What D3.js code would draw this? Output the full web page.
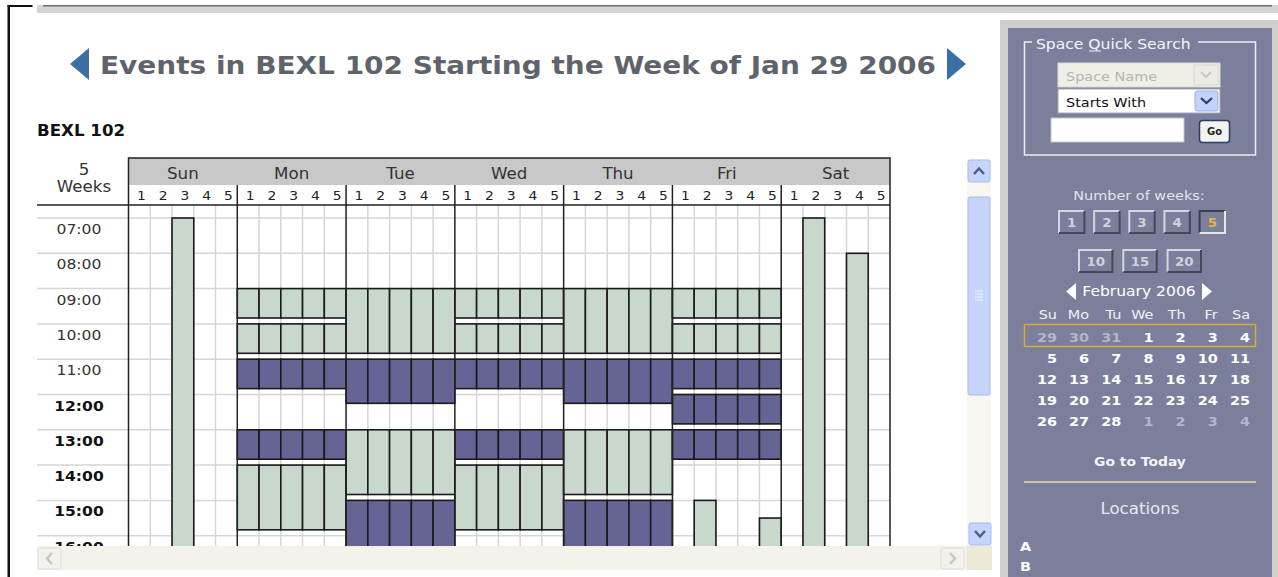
<!DOCTYPE html>
<html>
<script src="https://d3js.org/d3.v7.min.js"></script>

<head>
    <style>
        body {
            margin: 0;
            background-color: #ffffff;
            overflow: hidden;
        }

        svg {
            display: block;
            font-family: "DejaVu Sans", Verdana, sans-serif;
        }
    </style>
</head>

<body>
</body>
<script>
    const width = 1278,
        height = 577;

    const room = "BEXL 102";
    const title = "Events in BEXL 102 Starting the Week of Jan 29 2006";
    const days = ["Sun", "Mon", "Tue", "Wed", "Thu", "Fri", "Sat"];
    const weeks = [1, 2, 3, 4, 5];
    const hours = [7, 8, 9, 10, 11, 12, 13, 14, 15, 16];
    const hourLabels = ["07:00", "08:00", "09:00", "10:00", "11:00", "12:00", "13:00", "14:00", "15:00", "16:00"];

    // bookings: day, week columns, start/end in decimal hours, kind
    const events = [
        { day: "Sun", weeks: [3], start: 7, end: 18, kind: "open" },
        { day: "Mon", weeks: [1, 2, 3, 4, 5], start: 9, end: 9.833, kind: "open" },
        { day: "Mon", weeks: [1, 2, 3, 4, 5], start: 10, end: 10.833, kind: "open" },
        { day: "Mon", weeks: [1, 2, 3, 4, 5], start: 11, end: 11.833, kind: "class" },
        { day: "Mon", weeks: [1, 2, 3, 4, 5], start: 13, end: 13.833, kind: "class" },
        { day: "Mon", weeks: [1, 2, 3, 4, 5], start: 14, end: 15.833, kind: "open" },
        { day: "Tue", weeks: [1, 2, 3, 4, 5], start: 9, end: 10.833, kind: "open" },
        { day: "Tue", weeks: [1, 2, 3, 4, 5], start: 11, end: 12.25, kind: "class" },
        { day: "Tue", weeks: [1, 2, 3, 4, 5], start: 13, end: 14.833, kind: "open" },
        { day: "Tue", weeks: [1, 2, 3, 4, 5], start: 15, end: 16.833, kind: "class" },
        { day: "Wed", weeks: [1, 2, 3, 4, 5], start: 9, end: 9.833, kind: "open" },
        { day: "Wed", weeks: [1, 2, 3, 4, 5], start: 10, end: 10.833, kind: "open" },
        { day: "Wed", weeks: [1, 2, 3, 4, 5], start: 11, end: 11.833, kind: "class" },
        { day: "Wed", weeks: [1, 2, 3, 4, 5], start: 13, end: 13.833, kind: "class" },
        { day: "Wed", weeks: [1, 2, 3, 4, 5], start: 14, end: 15.833, kind: "open" },
        { day: "Thu", weeks: [1, 2, 3, 4, 5], start: 9, end: 10.833, kind: "open" },
        { day: "Thu", weeks: [1, 2, 3, 4, 5], start: 11, end: 12.25, kind: "class" },
        { day: "Thu", weeks: [1, 2, 3, 4, 5], start: 13, end: 14.833, kind: "open" },
        { day: "Thu", weeks: [1, 2, 3, 4, 5], start: 15, end: 16.833, kind: "class" },
        { day: "Fri", weeks: [1, 2, 3, 4, 5], start: 9, end: 9.833, kind: "open" },
        { day: "Fri", weeks: [1, 2, 3, 4, 5], start: 10, end: 10.833, kind: "open" },
        { day: "Fri", weeks: [1, 2, 3, 4, 5], start: 11, end: 11.833, kind: "class" },
        { day: "Fri", weeks: [1, 2, 3, 4, 5], start: 12, end: 12.833, kind: "class" },
        { day: "Fri", weeks: [1, 2, 3, 4, 5], start: 13, end: 13.833, kind: "class" },
        { day: "Fri", weeks: [2], start: 15, end: 18, kind: "open" },
        { day: "Fri", weeks: [5], start: 15.5, end: 18, kind: "open" },
        { day: "Sat", weeks: [2], start: 7, end: 18, kind: "open" },
        { day: "Sat", weeks: [4], start: 8, end: 18, kind: "open" }
    ];

    // sidebar content
    const weekChoices = [1, 2, 3, 4, 5];
    const weekChoicesLong = [10, 15, 20];
    const selectedWeeks = 5;
    const monthLabel = "February 2006";
    const calDays = ["Su", "Mo", "Tu", "We", "Th", "Fr", "Sa"];
    const calRows = [
        [29, 30, 31, 1, 2, 3, 4],
        [5, 6, 7, 8, 9, 10, 11],
        [12, 13, 14, 15, 16, 17, 18],
        [19, 20, 21, 22, 23, 24, 25],
        [26, 27, 28, 1, 2, 3, 4]
    ];
    const locations = ["A", "B"];

    const colors = { open: "#c8d8cd", class: "#666494" };
    const panel = "#7b7f9b";

    const svg = d3.select("body").append("svg").attr("width", width).attr("height", height);

    // page frame
    svg.append("rect").attr("x", 37).attr("y", 5).attr("width", width - 37).attr("height", 8).attr("fill", "#d4d4d4");
    svg.append("rect").attr("x", 43).attr("y", 5).attr("width", 1229).attr("height", 1.5).attr("fill", "#6e6e6e");
    svg.append("rect").attr("x", 7.5).attr("y", 5).attr("width", 2.5).attr("height", height).attr("fill", "#111");
    svg.append("rect").attr("x", 7.5).attr("y", 5).attr("width", 25).attr("height", 2).attr("fill", "#111");

    // title with arrows
    svg.append("path").attr("d", "M89,48 L70,64 L89,80 Z").attr("fill", "#3b6ea2");
    svg.append("path").attr("d", "M947,48 L966,64 L947,80 Z").attr("fill", "#3b6ea2");
    svg.append("text")
        .attr("x", 100).attr("y", 74)
        .attr("font-size", 25).attr("font-weight", "bold")
        .attr("fill", "#5f646c")
        .attr("textLength", 836).attr("lengthAdjust", "spacingAndGlyphs")
        .text(title);
    svg.append("text")
        .attr("class", "wide")
        .attr("x", 37).attr("y", 136)
        .attr("font-size", 15).attr("font-weight", "bold")
        .attr("fill", "#111")
        .text(room);

    // scales
    const gridLeft = 128.5, gridRight = 890, gridTop = 205, gridBottom = 546;
    const x = d3.scaleBand().domain(days).range([gridLeft, gridRight]);
    const xw = d3.scaleBand().domain(weeks).range([0, x.bandwidth()]);
    const y = d3.scaleLinear().domain([7, 17]).range([218, 218 + 10 * 35.3]);

    const grid = svg.append("g");
    const clip = svg.append("defs").append("clipPath").attr("id", "body-clip");
    clip.append("rect").attr("x", 37).attr("y", gridTop).attr("width", 930).attr("height", gridBottom - gridTop);

    // header rows
    grid.append("rect")
        .attr("x", gridLeft).attr("y", 158)
        .attr("width", gridRight - gridLeft).attr("height", 27)
        .attr("fill", "#c8c8c8");
    grid.selectAll(".day")
        .data(days)
        .join("text")
        .attr("class", "day wide")
        .attr("x", d => x(d) + x.bandwidth() / 2).attr("y", 179)
        .attr("text-anchor", "middle")
        .attr("font-size", 15).attr("fill", "#333")
        .text(d => d);
    days.forEach(d => {
        grid.append("g").selectAll("text")
            .data(weeks)
            .join("text")
            .attr("class", "wide")
            .attr("x", w => x(d) + xw(w) + xw.bandwidth() / 2 + 2).attr("y", 200)
            .attr("text-anchor", "middle")
            .attr("font-size", 12.5).attr("fill", "#222")
            .text(w => w);
    });
    grid.append("text").attr("class", "wide").attr("x", 84).attr("y", 175)
        .attr("text-anchor", "middle").attr("font-size", 15).attr("fill", "#333").text(weeks.length);
    grid.append("text").attr("class", "wide").attr("x", 84).attr("y", 192)
        .attr("text-anchor", "middle").attr("font-size", 15).attr("fill", "#333").text("Weeks");

    // body grid
    const body = svg.append("g").attr("clip-path", "url(#body-clip)");
    body.selectAll(".hline")
        .data(hours)
        .join("line")
        .attr("x1", 37).attr("x2", gridRight)
        .attr("y1", d => y(d)).attr("y2", d => y(d))
        .attr("stroke", "#d6d6d6").attr("stroke-width", 1.5);
    const cols = days.flatMap(d => weeks.slice(1).map(w => x(d) + xw(w)));
    body.selectAll(".vline")
        .data(cols)
        .join("line")
        .attr("x1", d => d).attr("x2", d => d)
        .attr("y1", gridTop).attr("y2", gridBottom)
        .attr("stroke", "#d6d6d6").attr("stroke-width", 1.5);
    body.selectAll(".tlabel")
        .data(hours)
        .join("text")
        .attr("class", "wide")
        .attr("x", 79).attr("y", d => y(d) + 16)
        .attr("text-anchor", "middle")
        .attr("font-size", 14)
        .attr("font-weight", d => d >= 12 ? "bold" : "normal")
        .attr("fill", d => d >= 12 ? "#111" : "#333")
        .text((d, i) => hourLabels[i]);

    // day dividers
    svg.selectAll(".divider")
        .data(days.slice(1))
        .join("line")
        .attr("x1", d => x(d)).attr("x2", d => x(d))
        .attr("y1", 185).attr("y2", gridBottom)
        .attr("stroke", "#222").attr("stroke-width", 1.5);

    // bookings
    const cells = events.flatMap(e => e.weeks.map(w => ({ ...e, week: w })));
    body.selectAll(".event")
        .data(cells)
        .join("rect")
        .attr("x", d => x(d.day) + xw(d.week))
        .attr("y", d => y(d.start))
        .attr("width", xw.bandwidth())
        .attr("height", d => y(d.end) - y(d.start))
        .attr("fill", d => colors[d.kind])
        .attr("stroke", "#1a1a1a").attr("stroke-width", 1.6);

    // outer borders of the grid
    svg.append("path")
        .attr("d", `M${gridLeft},${gridBottom} V158 H${gridRight} V${gridBottom}`)
        .attr("fill", "none").attr("stroke", "#222").attr("stroke-width", 1.5);
    svg.append("line").attr("x1", 37).attr("x2", gridRight).attr("y1", gridTop).attr("y2", gridTop)
        .attr("stroke", "#222").attr("stroke-width", 1.5);

    // scrollbars
    svg.append("rect").attr("x", 967).attr("y", 159).attr("width", 24).attr("height", 387).attr("fill", "#f7f6f1");
    svg.append("rect").attr("x", 37).attr("y", 546).attr("width", 930).attr("height", 24).attr("fill", "#f4f2ea");
    svg.append("rect").attr("x", 967).attr("y", 546).attr("width", 25).attr("height", 24).attr("fill", "#ece9d8");
    const blueBtn = (bx, by, w, h) => svg.append("rect").attr("x", bx).attr("y", by).attr("width", w).attr("height", h)
        .attr("rx", 2).attr("fill", "#c4d4fb").attr("stroke", "#a7bcf0");
    blueBtn(968, 160, 22, 22);
    blueBtn(968, 197, 22, 198);
    blueBtn(969, 523, 22, 22);
    svg.append("path").attr("d", "M974,174 L979,168.5 L984,174").attr("fill", "none").attr("stroke", "#4d5f84").attr("stroke-width", 2.5);
    svg.append("path").attr("d", "M975,531 L980,536.5 L985,531").attr("fill", "none").attr("stroke", "#4d5f84").attr("stroke-width", 2.5);
    [291, 294, 297, 300].forEach(g => svg.append("line").attr("x1", 975).attr("x2", 983).attr("y1", g).attr("y2", g)
        .attr("stroke", "#eef3ff").attr("stroke-width", 1));
    svg.append("rect").attr("x", 38).attr("y", 548).attr("width", 23).attr("height", 21).attr("rx", 2)
        .attr("fill", "#f3f2ec").attr("stroke", "#e0ded4");
    svg.append("rect").attr("x", 941).attr("y", 548).attr("width", 23).attr("height", 21).attr("rx", 2)
        .attr("fill", "#f3f2ec").attr("stroke", "#e0ded4");
    svg.append("path").attr("d", "M52,553 L47,558.5 L52,564").attr("fill", "none").attr("stroke", "#c4c4c4").attr("stroke-width", 2.5);
    svg.append("path").attr("d", "M950,553 L955,558.5 L950,564").attr("fill", "none").attr("stroke", "#c4c4c4").attr("stroke-width", 2.5);

    // sidebar
    const side = svg.append("g");
    side.append("rect").attr("x", 1000).attr("y", 20).attr("width", 278).attr("height", height - 20).attr("fill", "#cfcfcf");
    side.append("rect").attr("x", 1008).attr("y", 28).attr("width", 264).attr("height", height - 28).attr("fill", panel);

    // quick search box
    side.append("path")
        .attr("d", "M1032,42 H1024.5 V155 H1255.5 V42 H1198")
        .attr("fill", "none").attr("stroke", "#eeeef4").attr("stroke-width", 1.5);
    side.append("text").attr("class", "wide").attr("x", 1036).attr("y", 49)
        .attr("font-size", 14).attr("fill", "#f4f4f8").text("Space Quick Search");
    side.append("line").attr("x1", 1089).attr("x2", 1101).attr("y1", 51).attr("y2", 51)
        .attr("stroke", "#f4f4f8").attr("stroke-width", 1);
    side.append("rect").attr("x", 1058).attr("y", 63).attr("width", 162).attr("height", 24)
        .attr("fill", "#f0efe6").attr("stroke", "#dcdbd0");
    side.append("rect").attr("x", 1194).attr("y", 65).attr("width", 24).attr("height", 20)
        .attr("fill", "#ecebe4").attr("stroke", "#d8d7cc");
    side.append("path").attr("d", "M1201,72 L1206,77 L1211,72").attr("fill", "none").attr("stroke", "#c8c8c4").attr("stroke-width", 2);
    side.append("text").attr("class", "wide").attr("x", 1066).attr("y", 81)
        .attr("font-size", 13).attr("fill", "#b4b4b4").text("Space Name");
    side.append("rect").attr("x", 1058).attr("y", 89).attr("width", 162).attr("height", 24)
        .attr("fill", "#ffffff").attr("stroke", "#a4a8b8");
    side.append("rect").attr("x", 1195).attr("y", 91).attr("width", 23).attr("height", 20).attr("rx", 2)
        .attr("fill", "#c2d2f8").attr("stroke", "#9cb0e0");
    side.append("path").attr("d", "M1201,98 L1206.5,103 L1212,98").attr("fill", "none").attr("stroke", "#2d3d6c").attr("stroke-width", 2.2);
    side.append("text").attr("class", "wide").attr("x", 1066).attr("y", 107)
        .attr("font-size", 13).attr("fill", "#111").text("Starts With");
    side.append("rect").attr("x", 1051).attr("y", 118).attr("width", 133).attr("height", 24)
        .attr("fill", "#ffffff").attr("stroke", "#c4c6d0");
    side.append("rect").attr("x", 1199.5).attr("y", 120.5).attr("width", 30).attr("height", 22).attr("rx", 3)
        .attr("fill", "#f2f2ee").attr("stroke", "#2a3d68").attr("stroke-width", 1.5);
    side.append("text").attr("x", 1214.5).attr("y", 135).attr("text-anchor", "middle")
        .attr("font-size", 10).attr("font-weight", "bold").attr("fill", "#222").text("Go");

    // number of weeks
    side.append("text").attr("class", "wide").attr("x", 1139).attr("y", 200).attr("text-anchor", "middle")
        .attr("font-size", 13).attr("fill", "#e4e4ec").text("Number of weeks:");
    const bx1 = d3.scaleBand().domain(weekChoices).range([1058, 1226]).paddingInner(0.22);
    const bx2 = d3.scaleBand().domain(weekChoicesLong).range([1078, 1202]).paddingInner(0.2);
    function weekButton(g, bx, by, v) {
        const on = v === selectedWeeks;
        const w = bx.bandwidth(), x0 = bx(v), h = 24;
        g.append("rect").attr("x", x0).attr("y", by).attr("width", w).attr("height", h).attr("fill", panel);
        g.append("path").attr("d", `M${x0 + 1},${by + h - 1} V${by + 1} H${x0 + w - 1}`)
            .attr("fill", "none").attr("stroke", on ? "#3c3f50" : "#d6d6dc").attr("stroke-width", 2);
        g.append("path").attr("d", `M${x0 + w - 1},${by + 1} V${by + h - 1} H${x0 + 1}`)
            .attr("fill", "none").attr("stroke", on ? "#e6e6e6" : "#45485a").attr("stroke-width", 2);
        g.append("text").attr("class", "wide").attr("x", x0 + w / 2).attr("y", by + 17).attr("text-anchor", "middle")
            .attr("font-size", 12).attr("font-weight", "bold")
            .attr("fill", on ? "#eab43c" : "#d2d2d8").text(v);
    }
    weekChoices.forEach(v => weekButton(side, bx1, 210, v));
    weekChoicesLong.forEach(v => weekButton(side, bx2, 249, v));

    // month calendar
    side.append("path").attr("d", "M1076,283 L1066,291.5 L1076,300 Z").attr("fill", "#ffffff");
    side.append("path").attr("d", "M1202,283 L1212,291.5 L1202,300 Z").attr("fill", "#ffffff");
    side.append("text").attr("class", "wide").attr("x", 1139).attr("y", 296).attr("text-anchor", "middle")
        .attr("font-size", 14).attr("fill", "#ffffff").text(monthLabel);
    const cx = d3.scalePoint().domain(d3.range(7)).range([1057, 1250]);
    side.selectAll(".calhead")
        .data(calDays)
        .join("text")
        .attr("class", "wide")
        .attr("x", (d, i) => cx(i)).attr("y", 319)
        .attr("text-anchor", "end")
        .attr("font-size", 13).attr("fill", "#f2f2f6")
        .text(d => d);
    side.append("rect").attr("x", 1024.5).attr("y", 324.5).attr("width", 231).attr("height", 22)
        .attr("fill", "none").attr("stroke", "#d8a93c").attr("stroke-width", 1.5);
    calRows.forEach((row, r) => {
        side.append("g").selectAll("text")
            .data(row)
            .join("text")
            .attr("class", "wide")
            .attr("x", (d, i) => cx(i)).attr("y", 341.5 + r * 21)
            .attr("text-anchor", "end")
            .attr("font-size", 13).attr("font-weight", "bold")
            .attr("fill", d => (r === 0 && d > 20) || (r === calRows.length - 1 && d < 8) ? "#b4b6c8" : "#ffffff")
            .text(d => d);
    });
    side.append("text").attr("class", "wide").attr("x", 1140).attr("y", 466).attr("text-anchor", "middle")
        .attr("font-size", 12.5).attr("font-weight", "bold").attr("fill", "#f4f4f8").text("Go to Today");
    side.append("line").attr("x1", 1024).attr("x2", 1256).attr("y1", 482).attr("y2", 482)
        .attr("stroke", "#cfc7a8").attr("stroke-width", 2);
    side.append("text").attr("class", "wide").attr("x", 1140).attr("y", 514).attr("text-anchor", "middle")
        .attr("font-size", 15).attr("fill", "#e8e8f0").text("Locations");
    side.selectAll(".loc")
        .data(locations)
        .join("text")
        .attr("class", "wide")
        .attr("x", 1020).attr("y", (d, i) => 551 + i * 20)
        .attr("font-size", 13).attr("font-weight", "bold").attr("fill", "#ffffff")
        .text(d => d);

    // stretch DejaVu text toward the wider Verdana look of the original
    svg.selectAll("text.wide").each(function () {
        const len = this.getComputedTextLength();
        d3.select(this).attr("textLength", len * 1.11).attr("lengthAdjust", "spacingAndGlyphs");
    });
</script>

</html>
